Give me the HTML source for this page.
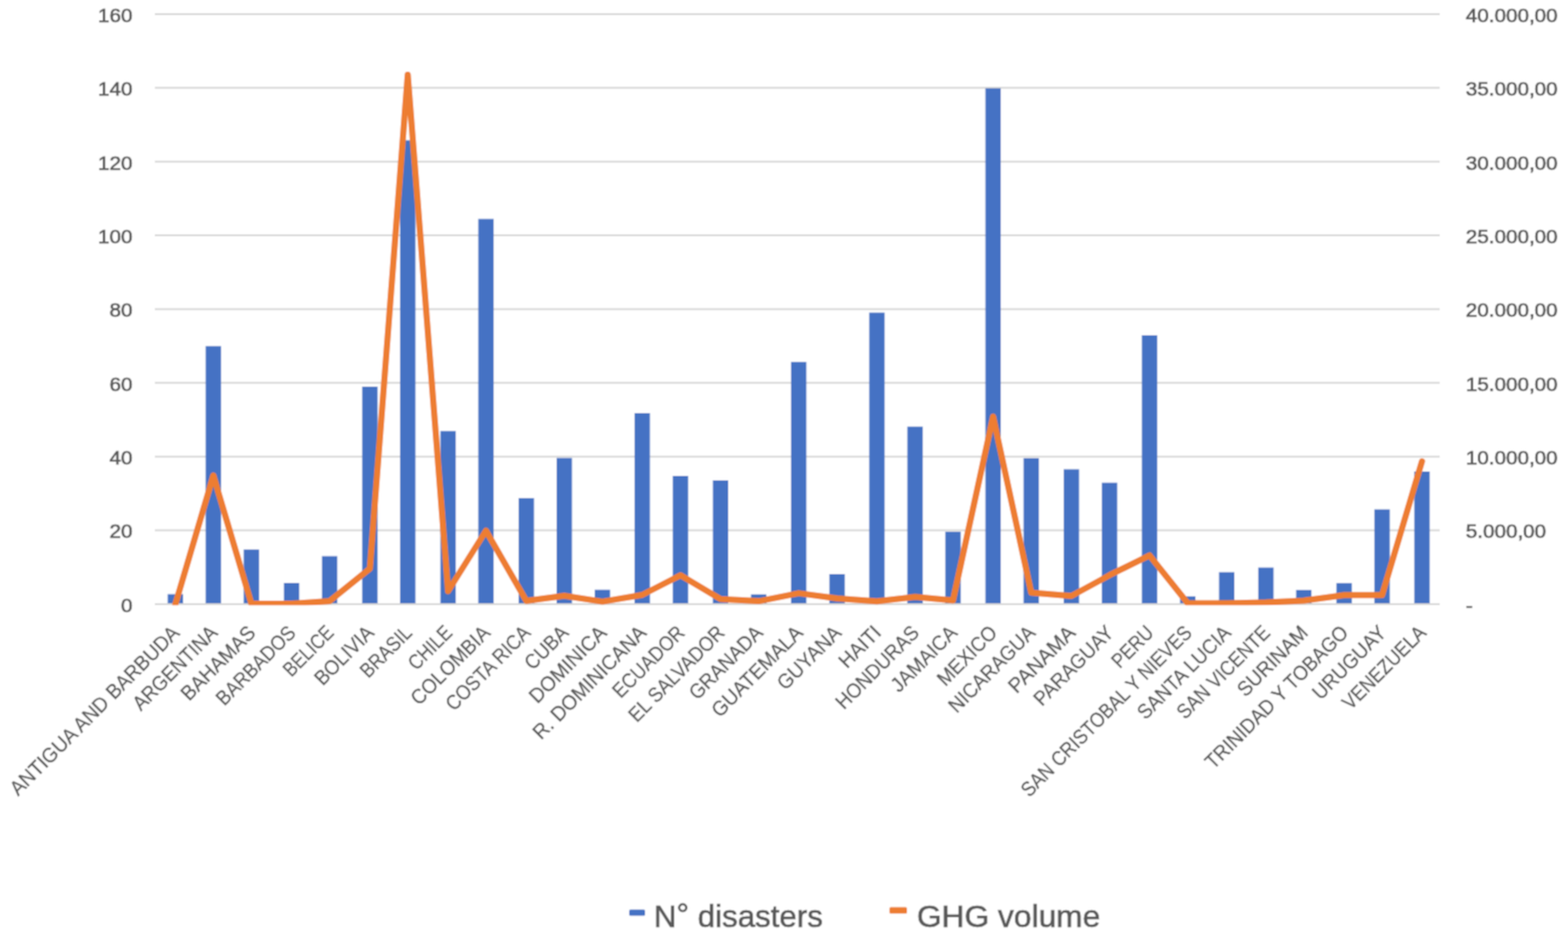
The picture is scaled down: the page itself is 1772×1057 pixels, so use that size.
<!DOCTYPE html>
<html><head><meta charset="utf-8"><title>Chart</title>
<style>
html,body{margin:0;padding:0;background:#fff;}
body{width:1772px;height:1057px;overflow:hidden;}
svg{display:block;}
text{font-family:"Liberation Sans",Arial,sans-serif;fill:#595959;stroke:#595959;stroke-width:0.7px;}
.ax{font-size:21.8px;}
.cat{font-size:23.3px;stroke-width:0.35px;}
.leg{font-size:35.3px;}
</style></head><body>
<svg width="1772" height="1057" viewBox="0 0 1772 1057">
<defs><clipPath id="pc"><rect x="0" y="0" width="1772" height="684.2"/></clipPath><filter id="bl" x="0" y="0" width="100%" height="100%" filterUnits="userSpaceOnUse"><feConvolveMatrix order="3" kernelMatrix="1 2 1 2 4 2 1 2 1" divisor="16" edgeMode="duplicate" preserveAlpha="false"/></filter></defs>
<rect width="1772" height="1057" fill="#ffffff"/>
<g filter="url(#bl)">
<rect width="1772" height="1057" fill="#ffffff"/>
<line x1="175" y1="15.90" x2="1627" y2="15.90" stroke="#d6d6d6" stroke-width="2"/>
<line x1="175" y1="99.28" x2="1627" y2="99.28" stroke="#d6d6d6" stroke-width="2"/>
<line x1="175" y1="182.65" x2="1627" y2="182.65" stroke="#d6d6d6" stroke-width="2"/>
<line x1="175" y1="266.02" x2="1627" y2="266.02" stroke="#d6d6d6" stroke-width="2"/>
<line x1="175" y1="349.40" x2="1627" y2="349.40" stroke="#d6d6d6" stroke-width="2"/>
<line x1="175" y1="432.77" x2="1627" y2="432.77" stroke="#d6d6d6" stroke-width="2"/>
<line x1="175" y1="516.15" x2="1627" y2="516.15" stroke="#d6d6d6" stroke-width="2"/>
<line x1="175" y1="599.52" x2="1627" y2="599.52" stroke="#d6d6d6" stroke-width="2"/>
<line x1="175" y1="682.90" x2="1627" y2="682.90" stroke="#d6d6d6" stroke-width="2"/>
<rect x="189.50" y="671.70" width="17.4" height="10.30" fill="#4472c4"/>
<rect x="232.40" y="391.30" width="17.4" height="290.70" fill="#4472c4"/>
<rect x="275.40" y="621.20" width="17.4" height="60.80" fill="#4472c4"/>
<rect x="320.80" y="659.00" width="17.4" height="23.00" fill="#4472c4"/>
<rect x="363.80" y="628.70" width="17.4" height="53.30" fill="#4472c4"/>
<rect x="409.30" y="437.10" width="17.4" height="244.90" fill="#4472c4"/>
<rect x="452.10" y="158.60" width="17.4" height="523.40" fill="#4472c4"/>
<rect x="497.70" y="487.30" width="17.4" height="194.70" fill="#4472c4"/>
<rect x="540.50" y="247.50" width="17.4" height="434.50" fill="#4472c4"/>
<rect x="586.10" y="563.10" width="17.4" height="118.90" fill="#4472c4"/>
<rect x="629.00" y="517.70" width="17.4" height="164.30" fill="#4472c4"/>
<rect x="672.10" y="666.70" width="17.4" height="15.30" fill="#4472c4"/>
<rect x="717.10" y="467.00" width="17.4" height="215.00" fill="#4472c4"/>
<rect x="760.30" y="538.00" width="17.4" height="144.00" fill="#4472c4"/>
<rect x="805.60" y="543.00" width="17.4" height="139.00" fill="#4472c4"/>
<rect x="848.70" y="671.90" width="17.4" height="10.10" fill="#4472c4"/>
<rect x="893.90" y="409.20" width="17.4" height="272.80" fill="#4472c4"/>
<rect x="937.30" y="649.00" width="17.4" height="33.00" fill="#4472c4"/>
<rect x="982.30" y="353.40" width="17.4" height="328.60" fill="#4472c4"/>
<rect x="1025.40" y="482.30" width="17.4" height="199.70" fill="#4472c4"/>
<rect x="1068.30" y="601.10" width="17.4" height="80.90" fill="#4472c4"/>
<rect x="1113.60" y="99.80" width="17.4" height="582.20" fill="#4472c4"/>
<rect x="1156.70" y="517.90" width="17.4" height="164.10" fill="#4472c4"/>
<rect x="1202.10" y="530.50" width="17.4" height="151.50" fill="#4472c4"/>
<rect x="1245.20" y="545.70" width="17.4" height="136.30" fill="#4472c4"/>
<rect x="1290.40" y="379.00" width="17.4" height="303.00" fill="#4472c4"/>
<rect x="1333.61" y="674.20" width="17.4" height="7.80" fill="#4472c4"/>
<rect x="1377.60" y="646.80" width="17.4" height="35.20" fill="#4472c4"/>
<rect x="1421.90" y="641.60" width="17.4" height="40.40" fill="#4472c4"/>
<rect x="1464.70" y="666.90" width="17.4" height="15.10" fill="#4472c4"/>
<rect x="1510.30" y="659.20" width="17.4" height="22.80" fill="#4472c4"/>
<rect x="1553.20" y="575.80" width="17.4" height="106.20" fill="#4472c4"/>
<rect x="1598.30" y="533.00" width="17.4" height="149.00" fill="#4472c4"/>
<polyline points="198.20,683.00 241.10,537.50 284.10,682.60 329.50,682.60 372.50,679.50 418.00,642.80 460.80,84.50 506.40,668.20 549.20,600.00 594.80,679.20 637.70,673.50 680.80,680.10 725.80,672.50 769.00,650.30 814.30,677.30 857.40,679.60 902.60,670.60 946.00,676.50 991.00,679.70 1034.10,674.80 1077.00,678.70 1122.30,471.00 1165.40,670.00 1210.80,673.80 1253.90,650.20 1299.10,627.90 1342.31,682.00 1386.30,682.00 1430.60,681.00 1473.40,679.00 1519.00,672.70 1561.90,672.70 1607.00,521.50" fill="none" stroke="#ed7d31" stroke-width="7.0" stroke-linejoin="round" stroke-linecap="round" clip-path="url(#pc)"/>
<text x="149.80" y="24.80" text-anchor="end" class="ax" textLength="38.93" lengthAdjust="spacingAndGlyphs">160</text>
<text x="149.80" y="108.18" text-anchor="end" class="ax" textLength="38.93" lengthAdjust="spacingAndGlyphs">140</text>
<text x="149.80" y="191.55" text-anchor="end" class="ax" textLength="38.93" lengthAdjust="spacingAndGlyphs">120</text>
<text x="149.80" y="274.92" text-anchor="end" class="ax" textLength="38.93" lengthAdjust="spacingAndGlyphs">100</text>
<text x="149.80" y="358.30" text-anchor="end" class="ax" textLength="25.95" lengthAdjust="spacingAndGlyphs">80</text>
<text x="149.80" y="441.67" text-anchor="end" class="ax" textLength="25.95" lengthAdjust="spacingAndGlyphs">60</text>
<text x="149.80" y="525.05" text-anchor="end" class="ax" textLength="25.95" lengthAdjust="spacingAndGlyphs">40</text>
<text x="149.80" y="608.42" text-anchor="end" class="ax" textLength="25.95" lengthAdjust="spacingAndGlyphs">20</text>
<text x="149.80" y="691.80" text-anchor="end" class="ax" textLength="12.98" lengthAdjust="spacingAndGlyphs">0</text>
<text x="1656.60" y="24.80" class="ax" textLength="103.68" lengthAdjust="spacingAndGlyphs">40.000,00</text>
<text x="1656.60" y="108.18" class="ax" textLength="103.68" lengthAdjust="spacingAndGlyphs">35.000,00</text>
<text x="1656.60" y="191.55" class="ax" textLength="103.68" lengthAdjust="spacingAndGlyphs">30.000,00</text>
<text x="1656.60" y="274.92" class="ax" textLength="103.68" lengthAdjust="spacingAndGlyphs">25.000,00</text>
<text x="1656.60" y="358.30" class="ax" textLength="103.68" lengthAdjust="spacingAndGlyphs">20.000,00</text>
<text x="1656.60" y="441.67" class="ax" textLength="103.68" lengthAdjust="spacingAndGlyphs">15.000,00</text>
<text x="1656.60" y="525.05" class="ax" textLength="103.68" lengthAdjust="spacingAndGlyphs">10.000,00</text>
<text x="1656.60" y="608.42" class="ax" textLength="90.70" lengthAdjust="spacingAndGlyphs">5.000,00</text>
<text x="1656.60" y="691.80" class="ax" textLength="7.84" lengthAdjust="spacingAndGlyphs">-</text>
<text transform="translate(204.20,716.80) rotate(-45)" text-anchor="end" class="cat" textLength="259.86" lengthAdjust="spacingAndGlyphs">ANTIGUA AND BARBUDA</text>
<text transform="translate(247.10,716.80) rotate(-45)" text-anchor="end" class="cat" textLength="124.15" lengthAdjust="spacingAndGlyphs">ARGENTINA</text>
<text transform="translate(290.10,716.80) rotate(-45)" text-anchor="end" class="cat" textLength="107.96" lengthAdjust="spacingAndGlyphs">BAHAMAS</text>
<text transform="translate(335.50,716.80) rotate(-45)" text-anchor="end" class="cat" textLength="115.84" lengthAdjust="spacingAndGlyphs">BARBADOS</text>
<text transform="translate(378.50,716.80) rotate(-45)" text-anchor="end" class="cat" textLength="69.79" lengthAdjust="spacingAndGlyphs">BELICE</text>
<text transform="translate(424.00,716.80) rotate(-45)" text-anchor="end" class="cat" textLength="83.88" lengthAdjust="spacingAndGlyphs">BOLIVIA</text>
<text transform="translate(466.80,716.80) rotate(-45)" text-anchor="end" class="cat" textLength="71.61" lengthAdjust="spacingAndGlyphs">BRASIL</text>
<text transform="translate(512.40,716.80) rotate(-45)" text-anchor="end" class="cat" textLength="59.31" lengthAdjust="spacingAndGlyphs">CHILE</text>
<text transform="translate(555.20,716.80) rotate(-45)" text-anchor="end" class="cat" textLength="115.39" lengthAdjust="spacingAndGlyphs">COLOMBIA</text>
<text transform="translate(600.80,716.80) rotate(-45)" text-anchor="end" class="cat" textLength="124.25" lengthAdjust="spacingAndGlyphs">COSTA RICA</text>
<text transform="translate(643.70,716.80) rotate(-45)" text-anchor="end" class="cat" textLength="58.81" lengthAdjust="spacingAndGlyphs">CUBA</text>
<text transform="translate(686.80,716.80) rotate(-45)" text-anchor="end" class="cat" textLength="112.48" lengthAdjust="spacingAndGlyphs">DOMINICA</text>
<text transform="translate(731.80,716.80) rotate(-45)" text-anchor="end" class="cat" textLength="169.96" lengthAdjust="spacingAndGlyphs">R. DOMINICANA</text>
<text transform="translate(775.00,716.80) rotate(-45)" text-anchor="end" class="cat" textLength="103.99" lengthAdjust="spacingAndGlyphs">ECUADOR</text>
<text transform="translate(820.30,716.80) rotate(-45)" text-anchor="end" class="cat" textLength="142.33" lengthAdjust="spacingAndGlyphs">EL SALVADOR</text>
<text transform="translate(863.40,716.80) rotate(-45)" text-anchor="end" class="cat" textLength="106.76" lengthAdjust="spacingAndGlyphs">GRANADA</text>
<text transform="translate(908.60,716.80) rotate(-45)" text-anchor="end" class="cat" textLength="134.64" lengthAdjust="spacingAndGlyphs">GUATEMALA</text>
<text transform="translate(952.00,716.80) rotate(-45)" text-anchor="end" class="cat" textLength="91.20" lengthAdjust="spacingAndGlyphs">GUYANA</text>
<text transform="translate(997.00,716.80) rotate(-45)" text-anchor="end" class="cat" textLength="56.14" lengthAdjust="spacingAndGlyphs">HAITI</text>
<text transform="translate(1040.10,716.80) rotate(-45)" text-anchor="end" class="cat" textLength="122.08" lengthAdjust="spacingAndGlyphs">HONDURAS</text>
<text transform="translate(1083.00,716.80) rotate(-45)" text-anchor="end" class="cat" textLength="94.59" lengthAdjust="spacingAndGlyphs">JAMAICA</text>
<text transform="translate(1128.30,716.80) rotate(-45)" text-anchor="end" class="cat" textLength="84.73" lengthAdjust="spacingAndGlyphs">MEXICO</text>
<text transform="translate(1171.40,716.80) rotate(-45)" text-anchor="end" class="cat" textLength="127.54" lengthAdjust="spacingAndGlyphs">NICARAGUA</text>
<text transform="translate(1216.80,716.80) rotate(-45)" text-anchor="end" class="cat" textLength="96.08" lengthAdjust="spacingAndGlyphs">PANAMA</text>
<text transform="translate(1259.90,716.80) rotate(-45)" text-anchor="end" class="cat" textLength="116.61" lengthAdjust="spacingAndGlyphs">PARAGUAY</text>
<text transform="translate(1305.10,716.80) rotate(-45)" text-anchor="end" class="cat" textLength="56.05" lengthAdjust="spacingAndGlyphs">PERU</text>
<text transform="translate(1348.31,716.80) rotate(-45)" text-anchor="end" class="cat" textLength="261.89" lengthAdjust="spacingAndGlyphs">SAN CRISTOBAL Y NIEVES</text>
<text transform="translate(1392.30,716.80) rotate(-45)" text-anchor="end" class="cat" textLength="138.28" lengthAdjust="spacingAndGlyphs">SANTA LUCIA</text>
<text transform="translate(1436.60,716.80) rotate(-45)" text-anchor="end" class="cat" textLength="137.51" lengthAdjust="spacingAndGlyphs">SAN VICENTE</text>
<text transform="translate(1479.40,716.80) rotate(-45)" text-anchor="end" class="cat" textLength="101.76" lengthAdjust="spacingAndGlyphs">SURINAM</text>
<text transform="translate(1525.00,716.80) rotate(-45)" text-anchor="end" class="cat" textLength="217.43" lengthAdjust="spacingAndGlyphs">TRINIDAD Y TOBAGO</text>
<text transform="translate(1567.90,716.80) rotate(-45)" text-anchor="end" class="cat" textLength="106.61" lengthAdjust="spacingAndGlyphs">URUGUAY</text>
<text transform="translate(1613.00,716.80) rotate(-45)" text-anchor="end" class="cat" textLength="122.54" lengthAdjust="spacingAndGlyphs">VENEZUELA</text>
<rect x="711" y="1028.2" width="18" height="7" rx="1.5" fill="#4472c4"/>
<text x="739.0" y="1047.7" class="leg" textLength="190.99" lengthAdjust="spacingAndGlyphs">N<tspan dy="-1.8">°</tspan><tspan dy="1.8"> disasters</tspan></text>
<rect x="1005.2" y="1025.4" width="19.8" height="7.4" rx="1.5" fill="#ed7d31"/>
<text x="1036.20" y="1047.70" class="leg" textLength="207.19" lengthAdjust="spacingAndGlyphs">GHG volume</text>
</g>
</svg>
</body></html>
